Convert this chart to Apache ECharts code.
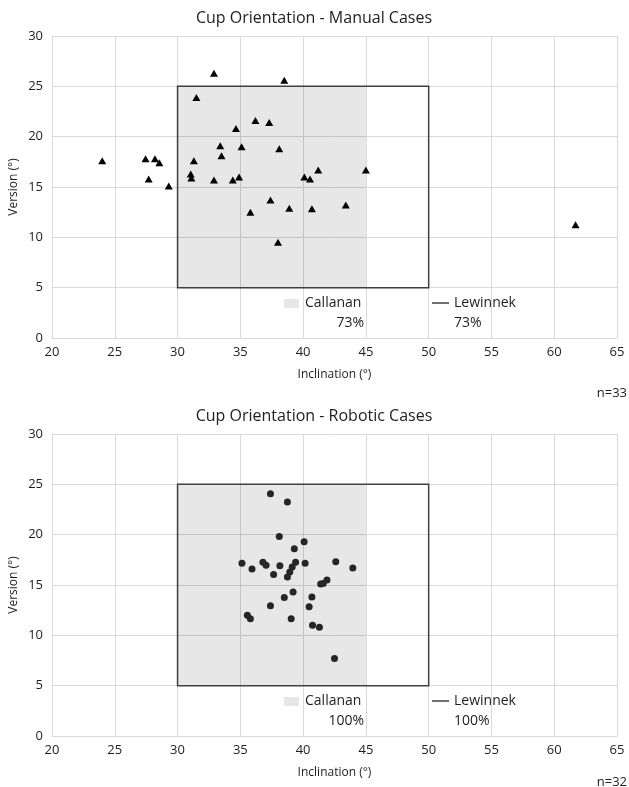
<!DOCTYPE html>
<html>
<head>
<meta charset="utf-8">
<script src="https://cdn.jsdelivr.net/npm/echarts@6/dist/echarts.min.js"></script>
<style>
html,body{margin:0;padding:0;background:#fff;}
#c{width:629px;height:787px;}
</style>
</head>
<body>
<div id="c"></div>
<script>
// ---- data ----
var titles = ['Cup Orientation - Manual Cases', 'Cup Orientation - Robotic Cases'];
var xName = 'Inclination (°)';
var yName = 'Version (°)';
var nLabels = ['n=33', 'n=32'];
var legendNames = ['Callanan', 'Lewinnek'];
var manualPct = ['73%', '73%'];
var roboticPct = ['100%', '100%'];
var xTicks = [20, 65, 5];
var yTicks = [0, 30, 5];
var callananInc = [30, 45], callananVer = [5, 25];
var lewinnekInc = [30, 50], lewinnekVer = [5, 25];

var manual = [
  [32.9,26.3],[38.5,25.6],[31.5,23.9],[36.2,21.6],[37.3,21.4],[34.65,20.8],[33.4,19.1],
  [35.1,19.0],[38.1,18.8],[33.5,18.1],[31.3,17.6],[24.0,17.6],[27.45,17.8],[28.2,17.8],
  [28.55,17.4],[31.05,16.3],[31.1,15.9],[32.9,15.7],[34.4,15.7],[34.9,16.0],[27.7,15.8],
  [29.3,15.1],[40.1,16.0],[40.55,15.8],[41.2,16.7],[45.0,16.7],[37.4,13.7],[38.9,12.9],
  [35.8,12.5],[40.7,12.85],[43.4,13.2],[38.0,9.5],[61.7,11.25]
];
var robotic = [
  [37.4,24.07],[38.75,23.25],[38.1,19.83],[40.08,19.3],[39.3,18.6],[35.13,17.15],[35.93,16.6],
  [36.8,17.25],[37.05,16.95],[38.15,16.9],[37.65,16.05],[39.4,17.25],[39.13,16.8],[38.94,16.3],
  [38.75,15.8],[40.16,17.15],[42.6,17.3],[43.96,16.7],[41.9,15.5],[41.6,15.15],[41.4,15.1],
  [39.2,14.3],[38.5,13.75],[40.7,13.8],[37.4,12.95],[40.48,12.85],[35.56,12.0],[35.8,11.65],
  [39.05,11.65],[40.75,11.0],[41.3,10.8],[42.5,7.7]
];

// ---- chart ----
var FONT = '"Open Sans", "Noto Sans", sans-serif';
var TXT = '#1e1e1e';
var GRIDC = '#d9d9d9';
var chart = echarts.init(document.getElementById('c'), null, {renderer: 'canvas'});

var grids = [
  {left: 52, top: 36, width: 565, height: 302},
  {left: 52, top: 434, width: 565, height: 302}
];

function xAxis(i) {
  return {
    type: 'value', gridIndex: i, min: xTicks[0], max: xTicks[1], interval: xTicks[2],
    axisLine: {show: true, lineStyle: {color: GRIDC, width: 1}},
    axisTick: {show: false},
    splitLine: {show: true, lineStyle: {color: GRIDC, width: 1}},
    axisLabel: {color: TXT, fontFamily: FONT, fontSize: 13, margin: 8}
  };
}
function yAxis(i) {
  return {
    type: 'value', gridIndex: i, min: yTicks[0], max: yTicks[1], interval: yTicks[2],
    axisLine: {show: true, lineStyle: {color: GRIDC, width: 1}},
    axisTick: {show: false},
    splitLine: {show: true, lineStyle: {color: GRIDC, width: 1}},
    axisLabel: {color: TXT, fontFamily: FONT, fontSize: 13, margin: 9}
  };
}

function areaSeries(i) {
  return [{
    type: 'scatter', xAxisIndex: i, yAxisIndex: i, data: [], z: 1, silent: true,
    markArea: {
      silent: true,
      itemStyle: {color: 'rgba(0,0,0,0.095)', borderWidth: 0},
      data: [[{coord: [callananInc[0], callananVer[1]]}, {coord: [callananInc[1], callananVer[0]]}]]
    }
  }, {
    type: 'scatter', xAxisIndex: i, yAxisIndex: i, data: [], z: 2, silent: true,
    markArea: {
      silent: true,
      itemStyle: {color: 'rgba(0,0,0,0)', borderColor: '#404040', borderWidth: 1.5},
      data: [[{coord: [lewinnekInc[0], lewinnekVer[1]]}, {coord: [lewinnekInc[1], lewinnekVer[0]]}]]
    }
  }];
}

var series = [].concat(areaSeries(0), areaSeries(1), [
  {type: 'scatter', xAxisIndex: 0, yAxisIndex: 0, data: manual, z: 5,
   symbol: 'triangle', symbolSize: [8, 7], itemStyle: {color: '#000', opacity: 1}},
  {type: 'scatter', xAxisIndex: 1, yAxisIndex: 1, data: robotic, z: 5,
   symbol: 'circle', symbolSize: 7, itemStyle: {color: '#262626', opacity: 1}}
]);

function txt(text, x, y, size, align, extra) {
  var o = {type: 'text', x: x, y: y, z: 100, silent: true,
    style: {text: text, fill: TXT, fontSize: size, fontFamily: FONT, align: align || 'center', verticalAlign: 'middle'}};
  if (extra) for (var k in extra) o[k] = extra[k];
  return o;
}

var graphics = [];
var pcts = [manualPct, roboticPct];
for (var i = 0; i < 2; i++) {
  var g = grids[i];
  var bottom = g.top + g.height;
  graphics.push(txt(titles[i], 314, g.top - 18, 16, 'center'));
  graphics.push(txt(yName, 14, g.top + g.height / 2, 12, 'center', {rotation: Math.PI / 2}));
  graphics.push(txt(xName, g.left + g.width / 2, bottom + 37, 12, 'center'));
  graphics.push(txt(nLabels[i], 627, bottom + 55 - i * 9, 13, 'right'));
  // legend
  graphics.push({type: 'rect', z: 100, silent: true, shape: {x: 284, y: bottom - 39, width: 15, height: 9},
    style: {fill: '#e7e7e7'}});
  graphics.push(txt(legendNames[0], 305, bottom - 35, 14, 'left'));
  graphics.push(txt(pcts[i][0], 364, bottom - 15, 14, 'right'));
  graphics.push({type: 'line', z: 100, silent: true, shape: {x1: 432, y1: bottom - 35, x2: 449, y2: bottom - 35},
    style: {stroke: '#404040', lineWidth: 1.5}});
  graphics.push(txt(legendNames[1], 454, bottom - 35, 14, 'left'));
  graphics.push(txt(pcts[i][1], 454, bottom - 15, 14, 'left'));
}

chart.setOption({
  backgroundColor: '#fff',
  animation: false,
  grid: grids,
  xAxis: [xAxis(0), xAxis(1)],
  yAxis: [yAxis(0), yAxis(1)],
  series: series,
  graphic: graphics
});
</script>
</body>
</html>
